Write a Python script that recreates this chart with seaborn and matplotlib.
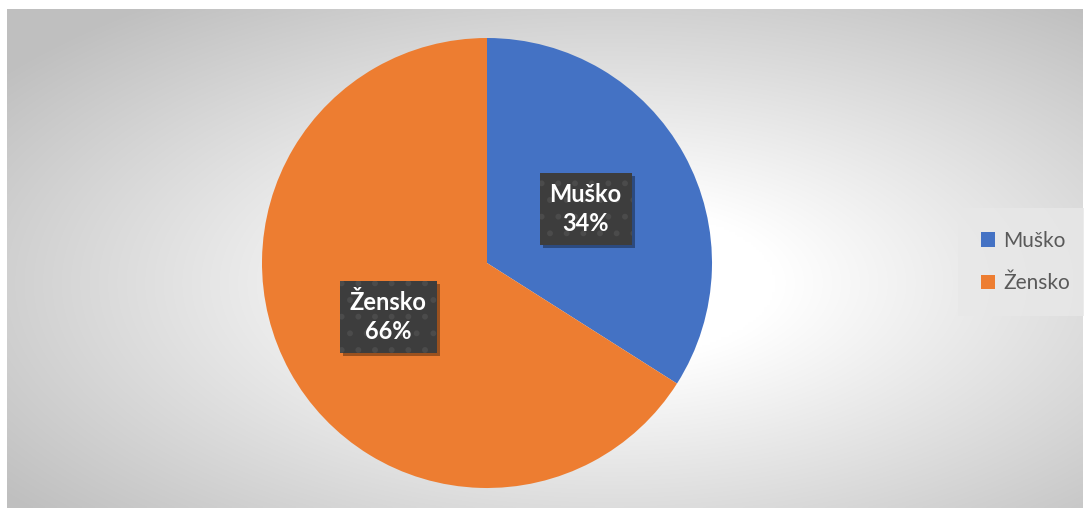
import numpy as np
import matplotlib
matplotlib.use("Agg")
import matplotlib.pyplot as plt
from matplotlib.patches import Rectangle
from matplotlib.transforms import IdentityTransform
import seaborn as sns

# Gender split
categories = ["Muško", "Žensko"]
shares = [34, 66]
colors = ["#4472C4", "#ED7D31"]

sns.set_theme(style="white")
plt.rcParams["font.family"] = ["Lato", "DejaVu Sans"]
plt.rcParams["hatch.linewidth"] = 1.8

W, H = 1084, 511
fig = plt.figure(figsize=(W / 100, H / 100), dpi=100)
fig.patch.set_facecolor("white")

# Radial grey gradient behind the chart area
x0, x1, ytop, ybot = 7, 1083, 9, 508
bg = fig.add_axes([x0 / W, 1 - ybot / H, (x1 - x0) / W, (ybot - ytop) / H])
gx, gy = np.meshgrid(np.linspace(0, 1, 400), np.linspace(0, 1, 200))
cx, cy = 0.56, 0.55
d = np.sqrt(((gx - cx) / 0.5) ** 2 + ((gy - cy) / 0.5) ** 2) / np.sqrt(2)
t = np.clip((d - 0.22) / 0.78, 0, 1)
val = 1.0 - 0.25 * t
bg.imshow(np.dstack([val, val, val]), aspect="auto", extent=(0, 1, 0, 1),
          interpolation="bilinear")
bg.set_axis_off()

# Pie
pcx, pcy, r = 487, 263, 225
ax = fig.add_axes([(pcx - r) / W, 1 - (pcy + r) / H, 2 * r / W, 2 * r / H])
ax.set_facecolor("none")
wedges, _ = ax.pie(shares, colors=colors, startangle=90, counterclock=False,
                   radius=1.0, wedgeprops=dict(linewidth=0))
ax.set_xlim(-1, 1)
ax.set_ylim(-1, 1)
ax.set_aspect("equal")
ax.set_axis_off()

total = sum(shares)
labels = []
for w, cat, v in zip(wedges, categories, shares):
    ang = np.deg2rad((w.theta1 + w.theta2) / 2)
    tx, ty = 0.5 * np.cos(ang), 0.5 * np.sin(ang)
    label = f"{cat}\n{round(100 * v / total)}%"
    labels.append(ax.text(tx, ty, label, color="white", ha="center", va="center",
                          fontsize=17, fontweight="bold", linespacing=1.3,
                          bbox=dict(boxstyle="square,pad=0.42", fc="#3d3d3d",
                                    ec="#4b4b4b", lw=0, hatch="."),
                          zorder=4))

# Drop shadows under the label boxes
fig.canvas.draw()
renderer = fig.canvas.get_renderer()
for lab in labels:
    bb = lab.get_bbox_patch().get_window_extent(renderer)
    shadow = Rectangle((bb.x0 + 3, bb.y0 - 3), bb.width, bb.height,
                       fc="black", ec="none", alpha=0.35, zorder=3)
    ax.add_patch(shadow)
    shadow.set_transform(IdentityTransform())

leg = fig.legend(wedges, categories, loc="center left",
                 bbox_to_anchor=(964 / W, 1 - 262 / H), frameon=True,
                 fontsize=15, labelspacing=1.1, handlelength=0.7, handleheight=0.7,
                 handletextpad=0.4, borderpad=0.8, borderaxespad=0)
leg.get_frame().set_facecolor("#e8e8e8")
leg.get_frame().set_edgecolor("none")
leg.get_frame().set_boxstyle("square")
for txt in leg.get_texts():
    txt.set_color("#595959")

fig.savefig("out.png", dpi=100, facecolor=fig.get_facecolor())
